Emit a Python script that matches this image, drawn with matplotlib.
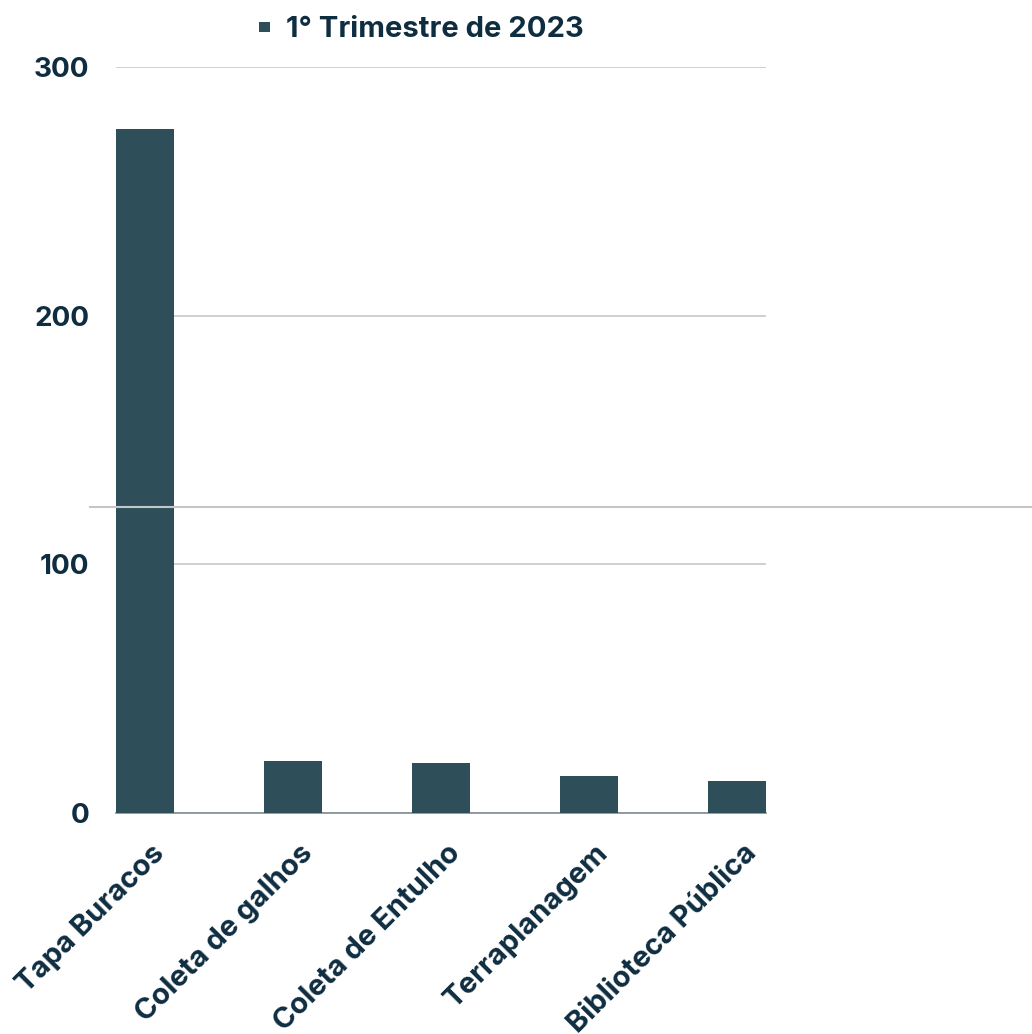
import matplotlib
matplotlib.use("Agg")
import matplotlib.pyplot as plt
import matplotlib.transforms as mtransforms
from matplotlib.lines import Line2D

categories = ["Tapa Buracos", "Coleta de galhos", "Coleta de Entulho", "Terraplanagem", "Biblioteca Pública"]
values = [275, 21, 20, 15, 13]
series_name = "1° Trimestre de 2023"
yticks = [0, 100, 200, 300]

bar_color = "#2e4f5a"
text_color = "#0f2d40"
grid_color = "#c3c9cd"

plt.rcParams['font.family'] = ['Inter', 'DejaVu Sans']

fig = plt.figure(figsize=(10.32, 10.34), dpi=100)
W, H = 1032, 1034
left, right = 116 / W, 766 / W
bottom, top = 1 - 813 / H, 1 - 67 / H
ax = fig.add_axes([left, bottom, right - left, top - bottom])

x = list(range(len(categories)))
ax.bar(x, values, width=0.39, color=bar_color, zorder=3, label=series_name)
ax.set_xlim(-0.195, len(categories) - 1 + 0.195)
ax.set_ylim(0, 300)
ax.set_yticks(yticks)
ax.set_yticklabels([str(v) for v in yticks], fontsize=20, fontweight='bold', color=text_color)
ax.set_xticks(x)
ax.set_xticklabels(categories, rotation=45, ha='right', rotation_mode='anchor',
                   fontsize=21, fontweight='bold', color=text_color)
ax.tick_params(axis='both', length=0)
ax.tick_params(axis='y', pad=19)
ax.tick_params(axis='x', pad=19)
offset = mtransforms.ScaledTranslation(6 / 100, 0, fig.dpi_scale_trans)
for lbl in ax.get_xticklabels():
    lbl.set_transform(lbl.get_transform() + offset)
for s in ['top', 'right', 'left']:
    ax.spines[s].set_visible(False)
ax.spines['bottom'].set_color('#7f8c93')
ax.spines['bottom'].set_linewidth(1.2)
ax.yaxis.grid(True, color=grid_color, linewidth=1.2, zorder=0)
ax.set_axisbelow(True)

# legend
leg = ax.legend(loc='lower center', bbox_to_anchor=(0.47, 1.016), frameon=False,
                handlelength=0.36, handleheight=0.18, handletextpad=0.55,
                prop={'size': 21, 'weight': 'bold'}, borderaxespad=0)
for t in leg.get_texts():
    t.set_color(text_color)

# decorative horizontal line across figure
fig.add_artist(Line2D([90 / W, 1.0], [1 - 507 / H, 1 - 507 / H], transform=fig.transFigure,
                      color='#c0c6ca', linewidth=1.5, zorder=10))

fig.savefig("out.png", dpi=100, facecolor='white')
